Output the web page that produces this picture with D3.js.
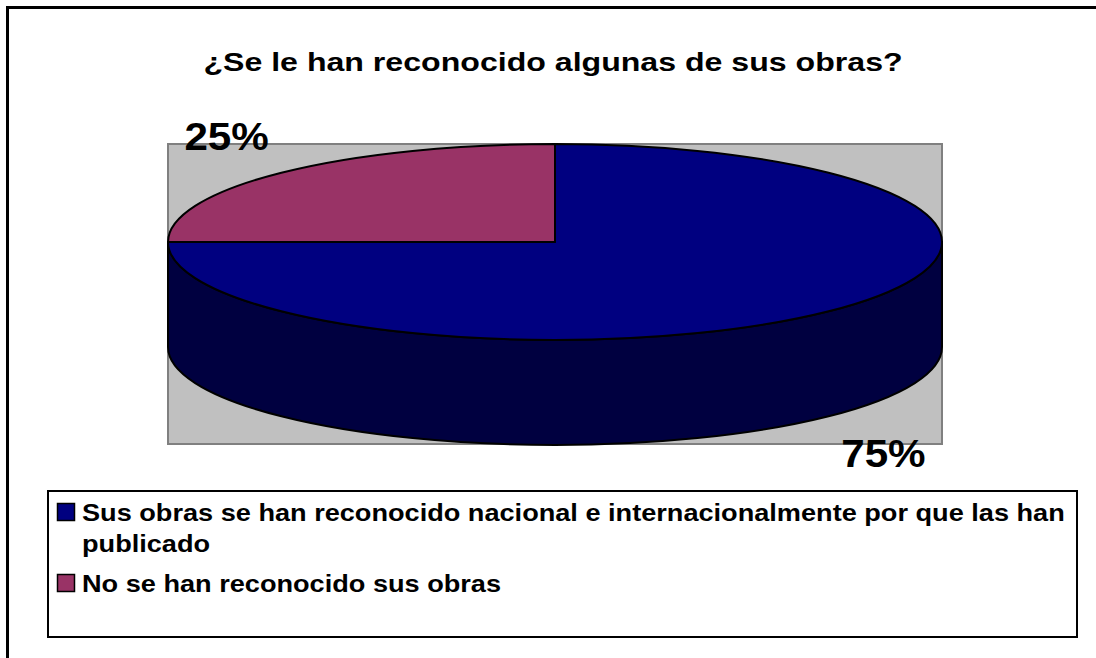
<!DOCTYPE html>
<html>
<head>
<meta charset="utf-8">
<script src="https://cdn.jsdelivr.net/npm/d3@7"></script>
<style>
  body { margin: 0; background: #fff; }
  svg { display: block; font-family: 'Liberation Sans', Arial, sans-serif; }
</style>
</head>
<body>
<div id="chart"></div>
<script>
var width = 1096
var height = 658

// data
var title = '¿Se le han reconocido algunas de sus obras?'
var categories = [
  'Sus obras se han reconocido nacional e internacionalmente por que las han publicado',
  'No se han reconocido sus obras'
]
var values = [75, 25]
var colors = ['#000080', '#993366']
var sideColors = ['#000040', '#4c1933']

var plot = { x: 168, y: 144, w: 774, h: 300 }
var cx = plot.x + plot.w / 2
var rx = plot.w / 2
var ry = 98
var depth = 105
var cy = plot.y + ry

// the original text is drawn a bit wider than the installed fonts
var titleStretch = 1.235
var legendStretch = 1.18
var pctStretch = 1.11

var svg = d3.select('#chart')
  .append('svg')
  .attr('width', width)
  .attr('height', height)

// outer frame (runs off the canvas on right and bottom)
svg.append('rect')
  .attr('x', 7.5).attr('y', 7.5)
  .attr('width', 1200).attr('height', 1000)
  .attr('fill', '#fff')
  .attr('stroke', '#000')
  .attr('stroke-width', 3)

svg.append('text')
  .attr('transform', 'translate(553,71) scale(' + titleStretch + ',1)')
  .attr('text-anchor', 'middle')
  .attr('font-size', 26)
  .attr('font-weight', 'bold')
  .text(title)

// plot area
svg.append('rect')
  .attr('x', plot.x).attr('y', plot.y)
  .attr('width', plot.w).attr('height', plot.h)
  .attr('fill', '#c0c0c0')
  .attr('stroke', '#808080')
  .attr('stroke-width', 2)

var pie = d3.pie().sort(null)
var arcs = pie(values)

function pt(a, dy) {
  return [cx + rx * Math.sin(a), cy - ry * Math.cos(a) + (dy || 0)]
}

function topPath(d) {
  var p0 = pt(d.startAngle)
  var p1 = pt(d.endAngle)
  var large = d.endAngle - d.startAngle > Math.PI ? 1 : 0
  return 'M' + cx + ',' + cy + 'L' + p0 + 'A' + rx + ',' + ry + ' 0 ' + large + ' 1 ' + p1 + 'Z'
}

function wallPath(d) {
  var a = Math.max(d.startAngle, Math.PI / 2)
  var b = Math.min(d.endAngle, Math.PI * 1.5)
  if (b <= a) return null
  var p0 = pt(a), p1 = pt(b)
  var q0 = pt(a, depth), q1 = pt(b, depth)
  return 'M' + p0 + 'A' + rx + ',' + ry + ' 0 0 1 ' + p1 +
    'L' + q1 + 'A' + rx + ',' + ry + ' 0 0 0 ' + q0 + 'Z'
}

var g = svg.append('g')

g.selectAll('path.wall')
  .data(arcs.filter(function(d) { return wallPath(d) }))
  .enter()
  .append('path')
  .attr('class', 'wall')
  .attr('d', wallPath)
  .attr('fill', function(d) { return sideColors[d.index] })
  .attr('stroke', '#000')
  .attr('stroke-width', 2)
  .attr('stroke-linejoin', 'round')

g.selectAll('path.top')
  .data(arcs)
  .enter()
  .append('path')
  .attr('class', 'top')
  .attr('d', topPath)
  .attr('fill', function(d) { return colors[d.index] })
  .attr('stroke', '#000')
  .attr('stroke-width', 2)
  .attr('stroke-linejoin', 'round')

// percent labels, placed outside the pie along the mid angle
var total = d3.sum(values)
svg.selectAll('text.pct')
  .data(arcs)
  .enter()
  .append('text')
  .attr('class', 'pct')
  .attr('transform', function(d) {
    var m = (d.startAngle + d.endAngle) / 2
    var front = Math.cos(m) < 0 ? depth : 0
    var x = cx + rx * 1.2 * Math.sin(m)
    var y = cy - ry * 1.53 * Math.cos(m) + front
    return 'translate(' + x + ',' + y + ') scale(' + pctStretch + ',1)'
  })
  .attr('dy', '0.36em')
  .attr('text-anchor', 'middle')
  .attr('font-size', 38)
  .attr('font-weight', 'bold')
  .text(function(d) { return Math.round(d.value / total * 100) + '%' })

// legend
var legend = { x: 48, y: 491, w: 1029, h: 146 }
svg.append('rect')
  .attr('x', legend.x).attr('y', legend.y)
  .attr('width', legend.w).attr('height', legend.h)
  .attr('fill', '#fff')
  .attr('stroke', '#000')
  .attr('stroke-width', 2)

var textX = 82
var maxW = legend.x + legend.w - textX - 6
var lineH = 31
var fs = 23

var lg = svg.append('g')
var yy = 521
categories.forEach(function(c, i) {
  lg.append('rect')
    .attr('x', 57.5).attr('y', yy - 17.5)
    .attr('width', 17).attr('height', 17)
    .attr('fill', colors[i])
    .attr('stroke', '#000')
    .attr('stroke-width', 1.5)

  var words = c.split(' ')
  var t = lg.append('text')
    .attr('transform', 'translate(' + textX + ',0) scale(' + legendStretch + ',1)')
    .attr('font-size', fs)
    .attr('font-weight', 'bold')
  var line = []
  var ts = t.append('tspan').attr('x', 0).attr('y', yy)
  words.forEach(function(w) {
    line.push(w)
    ts.text(line.join(' '))
    if (ts.node().getComputedTextLength() * legendStretch > maxW && line.length > 1) {
      line.pop()
      ts.text(line.join(' '))
      line = [w]
      yy += lineH
      ts = t.append('tspan').attr('x', 0).attr('y', yy).text(w)
    }
  })
  yy += 40
})
</script>
</body>
</html>
